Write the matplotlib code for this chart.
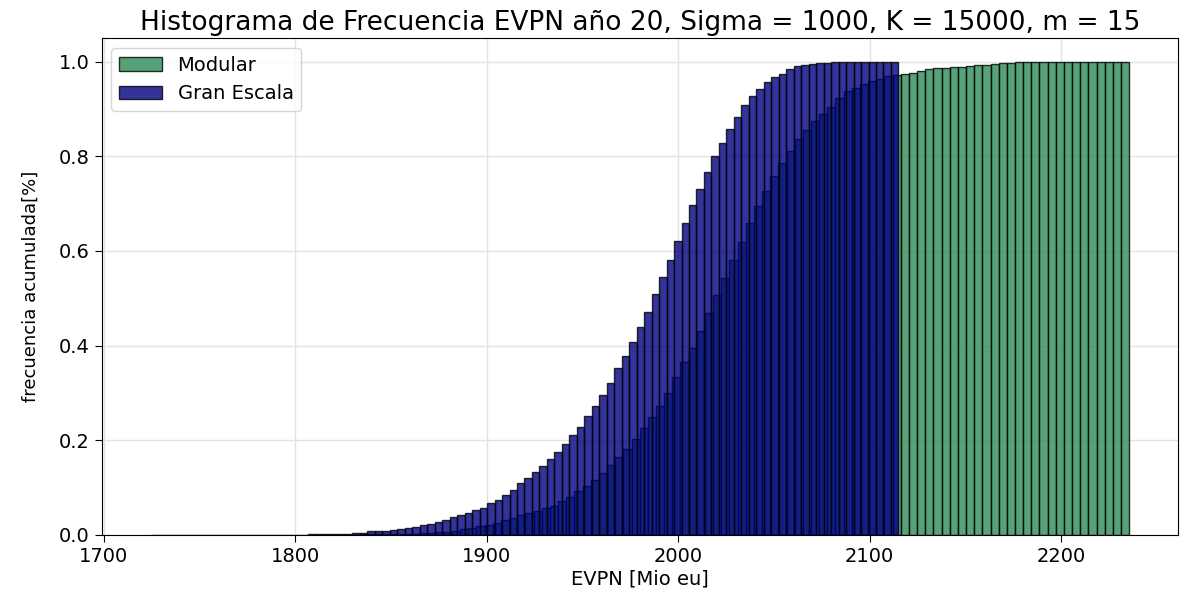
import matplotlib
matplotlib.use("Agg")
import matplotlib.pyplot as plt
import numpy as np

# bin ranges of each cumulative histogram (EVPN, Mio eu), 100 bins each
gran_range = (1724.5, 2115.0)
modular_range = (1809.5, 2235.5)
n_bins = 100

# cumulative frequency per bin
gran_escala = [
    0.0002, 0.0002, 0.0002, 0.0002, 0.0002, 0.0002, 0.0002, 0.0002, 0.0002, 0.0002,
    0.0005, 0.0005, 0.0005, 0.0005, 0.0005, 0.0005, 0.0005, 0.0005, 0.0005, 0.0005,
    0.001, 0.002, 0.002, 0.002, 0.002, 0.002, 0.003, 0.005, 0.005, 0.008,
    0.008, 0.009, 0.011, 0.013, 0.014, 0.017, 0.022, 0.024, 0.027, 0.032,
    0.037, 0.042, 0.046, 0.053, 0.058, 0.067, 0.074, 0.085, 0.095, 0.110,
    0.120, 0.133, 0.146, 0.160, 0.176, 0.193, 0.212, 0.229, 0.252, 0.273,
    0.295, 0.321, 0.352, 0.378, 0.407, 0.440, 0.472, 0.510, 0.545, 0.580,
    0.621, 0.659, 0.697, 0.731, 0.766, 0.800, 0.828, 0.858, 0.884, 0.909,
    0.927, 0.943, 0.957, 0.968, 0.975, 0.984, 0.991, 0.994, 0.995, 0.997,
    0.998, 1.0, 1.0, 1.0, 1.0, 1.0, 1.0, 1.0, 1.0, 1.0,
]

modular = [
    0.001, 0.001, 0.001, 0.001, 0.001, 0.001, 0.002, 0.002, 0.002, 0.002,
    0.003, 0.003, 0.003, 0.004, 0.005, 0.006, 0.007, 0.009, 0.012, 0.014,
    0.018, 0.022, 0.026, 0.031, 0.036, 0.042, 0.046, 0.050, 0.057, 0.062,
    0.072, 0.081, 0.092, 0.104, 0.116, 0.131, 0.148, 0.164, 0.182, 0.203,
    0.226, 0.250, 0.272, 0.300, 0.334, 0.366, 0.396, 0.432, 0.469, 0.506,
    0.543, 0.582, 0.618, 0.659, 0.695, 0.727, 0.758, 0.785, 0.811, 0.836,
    0.856, 0.875, 0.889, 0.905, 0.924, 0.938, 0.945, 0.952, 0.959, 0.964,
    0.969, 0.971, 0.973, 0.977, 0.981, 0.984, 0.986, 0.987, 0.988, 0.989,
    0.991, 0.992, 0.994, 0.995, 0.997, 0.998, 0.999, 1.0, 1.0, 1.0,
    1.0, 1.0, 1.0, 1.0, 1.0, 1.0, 1.0, 1.0, 1.0, 1.0,
]

title = 'Histograma de Frecuencia EVPN año 20, Sigma = 1000, K = 15000, m = 15'

fig = plt.figure(figsize=(11.92, 5.92), dpi=100)
ax = fig.add_axes([0.0853, 0.0963, 0.9030, 0.8395])
ax.set_axisbelow(True)
ax.grid(True, color='#e3e3e3', linewidth=1.0)

edges_m = np.linspace(*modular_range, n_bins + 1)
edges_g = np.linspace(*gran_range, n_bins + 1)

ax.bar(edges_m[:-1], modular, width=np.diff(edges_m), align='edge',
       color='seagreen', alpha=0.8, edgecolor='black', linewidth=1.0,
       label='Modular')
ax.bar(edges_g[:-1], gran_escala, width=np.diff(edges_g), align='edge',
       color='navy', alpha=0.8, edgecolor='black', linewidth=1.0,
       label='Gran Escala')

ax.set_xlim(1699, 2261)
ax.set_ylim(0, 1.05)
ax.set_xticks([1700, 1800, 1900, 2000, 2100, 2200])
ax.set_yticks([0.0, 0.2, 0.4, 0.6, 0.8, 1.0])
ax.tick_params(labelsize=14, length=5)

ax.set_title(title, fontsize=19, pad=6)
ax.set_xlabel('EVPN [Mio eu]', fontsize=14, labelpad=3)
ax.set_ylabel('frecuencia acumulada[%]', fontsize=13, labelpad=14)
ax.legend(loc='upper left', fontsize=14, handlelength=2.2)

fig.savefig('out.png', dpi=100)
